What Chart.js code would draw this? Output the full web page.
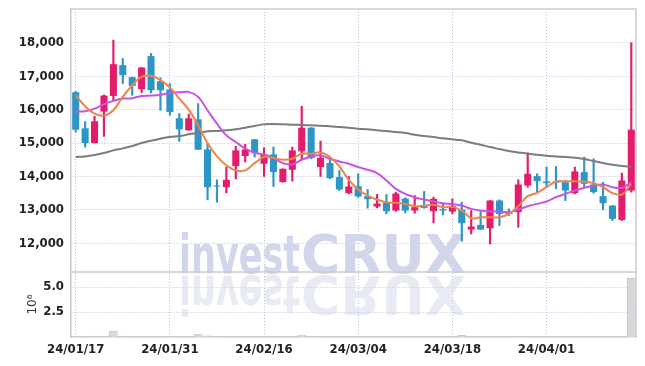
<!DOCTYPE html>
<html>
<head>
<meta charset="utf-8">
<script src="https://cdn.jsdelivr.net/npm/chart.js@4.4.1/dist/chart.umd.min.js"></script>
<style>
  html, body { margin: 0; padding: 0; background: #fff; }
  #wrap { width: 645px; height: 366px; }
</style>
</head>
<body>
<div id="wrap"><canvas id="grafico"></canvas></div>
<script>
// fechas (dias habiles)
const fechas = [
  '24/01/17','24/01/18','24/01/19','24/01/22','24/01/23','24/01/24','24/01/25','24/01/26','24/01/29','24/01/30',
  '24/01/31','24/02/01','24/02/02','24/02/05','24/02/06','24/02/07','24/02/08','24/02/13','24/02/14','24/02/15',
  '24/02/16','24/02/19','24/02/20','24/02/21','24/02/22','24/02/23','24/02/26','24/02/27','24/02/28','24/02/29',
  '24/03/04','24/03/05','24/03/06','24/03/07','24/03/08','24/03/11','24/03/12','24/03/13','24/03/14','24/03/15',
  '24/03/18','24/03/19','24/03/20','24/03/21','24/03/22','24/03/25','24/03/26','24/03/27','24/03/28','24/03/29',
  '24/04/01','24/04/02','24/04/03','24/04/04','24/04/05','24/04/08','24/04/09','24/04/11','24/04/12','24/04/15'
];

const apertura = [
  16520, 15440, 15000, 15940, 16410, 17330, 16970, 16610, 17600, 16850,
  16600, 15740, 15380, 15710, 14810, 13720, 13680, 14310, 14610, 15110,
  14380, 14660, 13830, 14200, 14750, 15460, 14280, 14400, 13980, 13500,
  13710, 13410, 13100, 13220, 12980, 13340, 12980, 13140, 12960, 13020,
  12950, 13010, 12410, 12550, 12450, 13280, 12930, 12930, 13730, 14010,
  13850, 13840, 13830, 13500, 14130, 13760, 13410, 13130, 12700, 13580
];
const maximo = [
  16540, 15640, 15800, 16440, 18080, 17530, 16970, 17260, 17680, 16950,
  16780, 15880, 15870, 16180, 14980, 13900, 14280, 14900, 14960, 15110,
  14860, 14880, 14230, 14880, 16100, 15460, 15060, 14530, 14180, 14000,
  14080, 13610, 13460, 13460, 13530, 13360, 13430, 13550, 13380, 13180,
  13330, 13230, 12980, 12950, 13280, 13300, 13030, 13900, 14710, 14080,
  14280, 14300, 13880, 14280, 14580, 14530, 13830, 13130, 14100, 18000
];
const minimo = [
  15330, 14880, 15000, 15200, 16280, 16780, 16430, 16510, 16500, 15980,
  15830, 15050, 15380, 14800, 13300, 13230, 13510, 13930, 14430, 14580,
  14000, 13700, 13830, 13860, 14530, 14530, 14000, 13930, 13580, 13480,
  13380, 13050, 13060, 12880, 12960, 12910, 12900, 13050, 12610, 12850,
  12880, 12060, 12280, 12410, 11980, 12530, 12830, 12480, 13680, 13530,
  13680, 13630, 13280, 13480, 13680, 13500, 13000, 12680, 12680, 13530
];
const cierre = [
  15400, 15000, 15650, 16420, 17360, 17030, 16710, 17260, 16580, 16580,
  15930, 15410, 15740, 14800, 13680, 13700, 13900, 14780, 14810, 14710,
  14660, 14130, 14230, 14780, 15460, 14550, 14560, 13950, 13610, 13700,
  13400, 13320, 13190, 12960, 13490, 12980, 13080, 13060, 13330, 12980,
  13110, 12600, 12500, 12410, 13280, 12880, 12880, 13760, 14080, 13860,
  13800, 13810, 13580, 14150, 13780, 13530, 13200, 12730, 13880, 15400
];

// medias moviles
const media5 = [
  16430, 16100, 15880, 15820, 15980, 16380, 16730, 16980, 17010, 16880,
  16660, 16330, 16000, 15530, 15000, 14600, 14330, 14180, 14180, 14400,
  14580, 14550, 14500, 14530, 14680, 14680, 14720, 14580, 14300, 13900,
  13610, 13430, 13310, 13230, 13210, 13180, 13110, 13130, 13150, 13080,
  13090, 12980, 12750, 12780, 12780, 12780, 12880, 13110, 13410, 13510,
  13680, 13850, 13850, 13860, 13850, 13800, 13680, 13500, 13460, 13780
];
const media20 = [
  15950, 15950, 16030, 16160, 16260, 16330, 16340, 16410, 16420, 16440,
  16500, 16520, 16530, 16380, 15980, 15580, 15230, 15030, 14830, 14710,
  14650, 14550, 14400, 14360, 14500, 14600, 14630, 14530, 14450, 14380,
  14280, 14200, 14100, 13880, 13630, 13480, 13380, 13310, 13250, 13200,
  13170, 13130, 13030, 12980, 12950, 12950, 12930, 13010, 13110, 13180,
  13250, 13380, 13480, 13580, 13660, 13730, 13760, 13680, 13660, 13830
];
const media60 = [
  14580, 14600, 14640, 14700, 14780, 14840, 14910, 15000, 15070, 15130,
  15180, 15210, 15260, 15310, 15350, 15360, 15380, 15410, 15460, 15510,
  15560, 15570, 15560, 15550, 15540, 15530, 15520, 15500, 15480, 15460,
  15430, 15410, 15380, 15360, 15330, 15300, 15250, 15210, 15180, 15140,
  15110, 15080, 15010, 14950, 14880, 14820, 14760, 14720, 14680, 14650,
  14620, 14600, 14580, 14560, 14520, 14460, 14400, 14350, 14310, 14290
];

const volumen = [
  100000, 50000, 120000, 80000, 620000, 120000, 50000, 40000, 50000, 50000,
  100000, 50000, 50000, 320000, 150000, 100000, 50000, 40000, 40000, 40000,
  60000, 50000, 40000, 50000, 220000, 100000, 80000, 80000, 40000, 40000,
  40000, 40000, 30000, 30000, 40000, 30000, 30000, 30000, 30000, 30000,
  60000, 200000, 50000, 50000, 80000, 70000, 60000, 100000, 90000, 40000,
  40000, 30000, 30000, 40000, 80000, 70000, 30000, 30000, 50000, 5900000
];

const ticksPrecio = [12000, 13000, 14000, 15000, 16000, 17000, 18000];
const ticksVolumen = [2500000, 5000000];

const ROJO = '#e41c6c';
const AZUL = '#2e95c7';
const colorVela = apertura.map((o, i) => cierre[i] >= o ? ROJO : AZUL);

const fuenteEje = { family: '"DejaVu Sans Condensed", "DejaVu Sans", sans-serif', size: 13, weight: 'bold' };
const colorGrid = 'rgba(170,170,205,0.75)';

// ancho fijo del eje y sin relleno extra arriba/abajo
function ajustarEjeY(s) {
  s.width = 71;
  s.paddingTop = 0;
  s.paddingBottom = 0;
}

// marca de agua y marco
const marcoPlugin = {
  id: 'marco',
  beforeDatasetsDraw(chart) {
    const ctx = chart.ctx;
    const a = chart.chartArea;
    const base = chart.scales.y.bottom + 1;
    const x0 = a.left + 108;
    ctx.save();
    ctx.font = 'bold 54px "DejaVu Sans", sans-serif';
    ctx.fillStyle = '#d1d6ea';
    const pintar = () => {
      ctx.fillText('invest', x0, base, 121);
      ctx.fillText('CRUX', x0 + 122, base, 165);
    };
    pintar();
    ctx.translate(0, 2 * base + 3);
    ctx.scale(1, -1);
    ctx.globalAlpha = 0.5;
    pintar();
    ctx.restore();
  },
  afterDraw(chart) {
    const ctx = chart.ctx;
    const a = chart.chartArea;
    const yv = chart.scales.yv;
    ctx.save();
    ctx.strokeStyle = '#cccccc';
    ctx.lineWidth = 1.5;
    ctx.beginPath();
    ctx.moveTo(a.left, a.top);
    ctx.lineTo(a.right, a.top);
    ctx.lineTo(a.right, a.bottom);
    ctx.moveTo(a.left, yv.top);
    ctx.lineTo(a.right, yv.top);
    ctx.stroke();
    // titulo del eje de volumen
    ctx.translate(33, (yv.top + yv.bottom) / 2);
    ctx.rotate(-Math.PI / 2);
    ctx.font = '12px "DejaVu Sans", sans-serif';
    ctx.fillStyle = '#333';
    ctx.textAlign = 'center';
    ctx.textBaseline = 'middle';
    ctx.fillText('10⁶', 0, 0);
    ctx.restore();
  }
};

function crearGrafico() {
  const ctx = document.getElementById('grafico').getContext('2d');
  new Chart(ctx, {
    data: {
      labels: fechas,
      datasets: [
        { type: 'line', data: media5, yAxisID: 'y', borderColor: '#ef8449', borderWidth: 2, pointRadius: 0, tension: 0.35, order: 0 },
        { type: 'line', data: media20, yAxisID: 'y', borderColor: '#c853e6', borderWidth: 2, pointRadius: 0, tension: 0.35, order: 0 },
        { type: 'line', data: media60, yAxisID: 'y', borderColor: '#7c7c7c', borderWidth: 2, pointRadius: 0, tension: 0.35, order: 0 },
        {
          type: 'bar', data: apertura.map((o, i) => [o, cierre[i]]), yAxisID: 'y',
          backgroundColor: colorVela, barPercentage: 0.75, categoryPercentage: 1, grouped: false, minBarLength: 1, order: 1
        },
        {
          type: 'bar', data: minimo.map((l, i) => [l, maximo[i]]), yAxisID: 'y',
          backgroundColor: colorVela, barThickness: 1.5, grouped: false, order: 2
        },
        {
          type: 'bar', data: volumen, yAxisID: 'yv',
          backgroundColor: '#d7d7dc', borderColor: '#c4c4cb', borderWidth: 1,
          barPercentage: 0.92, categoryPercentage: 1, grouped: false, order: 3
        }
      ]
    },
    options: {
      responsive: true,
      maintainAspectRatio: false,
      animation: false,
      devicePixelRatio: 1,
      layout: { padding: { top: 9, right: 9, left: 0, bottom: 0 } },
      plugins: { legend: { display: false }, tooltip: { enabled: false } },
      scales: {
        x: {
          type: 'category',
          offset: true,
          grid: { offset: false, color: colorGrid, drawTicks: false },
          border: { display: true, color: '#c8c8c8', width: 1.5, dash: [1, 2] },
          ticks: { maxRotation: 0, autoSkip: false, font: fuenteEje, color: '#222', padding: 5 },
          afterBuildTicks: s => { s.ticks = s.ticks.filter(t => t.value % 10 === 0); },
          afterFit: s => { s.height = 29; s.paddingLeft = 0; s.paddingRight = 0; }
        },
        yv: {
          type: 'linear', position: 'left', stack: 'panel', stackWeight: 1,
          min: 0, max: 6500000,
          grid: { color: colorGrid, drawTicks: false },
          border: { display: true, color: '#c8c8c8', width: 1.5, dash: [1, 2] },
          ticks: { font: fuenteEje, color: '#222', padding: 7, callback: v => (v / 1e6).toFixed(1) },
          afterBuildTicks: s => { s.ticks = ticksVolumen.map(v => ({ value: v })); },
          afterFit: ajustarEjeY
        },
        y: {
          type: 'linear', position: 'left', stack: 'panel', stackWeight: 4.05,
          min: 11140, max: 19010,
          grid: { color: colorGrid, drawTicks: false },
          border: { display: true, color: '#c8c8c8', width: 1.5, dash: [1, 2] },
          ticks: { font: fuenteEje, color: '#222', padding: 7, callback: v => v.toLocaleString('en-US') },
          afterBuildTicks: s => { s.ticks = ticksPrecio.map(v => ({ value: v })); },
          afterFit: ajustarEjeY
        }
      }
    },
    plugins: [marcoPlugin]
  });
}

window.onload = crearGrafico;
</script>
</body>
</html>
